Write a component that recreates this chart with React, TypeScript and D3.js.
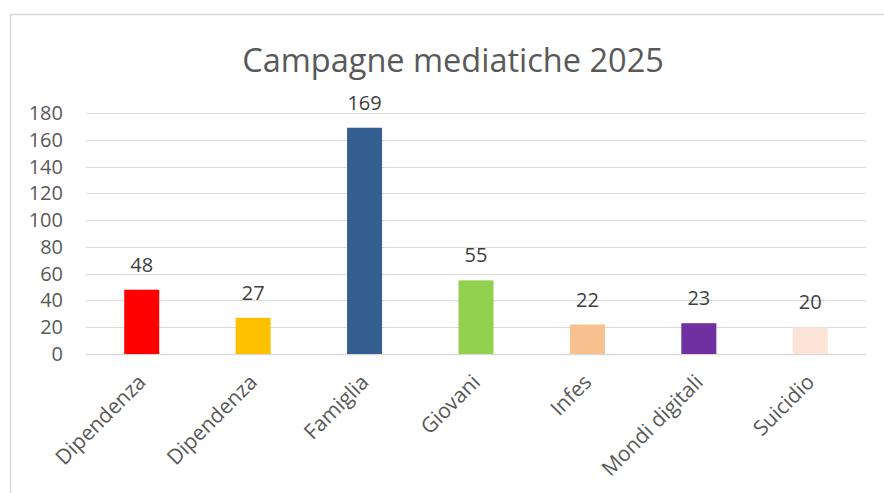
import React, { useEffect, useRef } from 'react';
import * as d3 from 'd3';

const categories = ['Dipendenza', 'Dipendenza ', 'Famiglia', 'Giovani', 'Infes', 'Mondi digitali', 'Suicidio'];
const values = [48, 27, 169, 55, 22, 23, 20];
const barColors = ['#FF0000', '#FFC000', '#355F91', '#92D050', '#F8C08E', '#7030A0', '#FCE4D6'];
const yTicks = [0, 20, 40, 60, 80, 100, 120, 140, 160, 180];
const title = 'Campagne mediatiche 2025';

function App() {
  const svgRef = useRef<SVGSVGElement>(null);

  useEffect(() => {
    const width = 884;
    const height = 493;
    const margin = { top: 113, right: 18, bottom: 139, left: 86 };
    const font = '"Open Sans", sans-serif';
    const textColor = '#595959';

    const svg = d3.select(svgRef.current);
    svg.selectAll('*').remove();

    // chart border, runs off the right and bottom edge like the original
    svg.append('rect')
      .attr('x', 10.5).attr('y', 14.5)
      .attr('width', 900).attr('height', 500)
      .attr('fill', 'white')
      .attr('stroke', '#D9D9D9').attr('stroke-width', 1.5);

    const x = d3.scaleBand<string>()
      .domain(categories)
      .range([margin.left, width - margin.right]);

    const y = d3.scaleLinear()
      .domain([0, 180])
      .range([height - margin.bottom, margin.top]);

    svg.append('text')
      .attr('x', 453).attr('y', 72)
      .attr('text-anchor', 'middle')
      .attr('font-family', font).attr('font-size', 32.5)
      .attr('fill', textColor)
      .text(title);

    // gridlines
    svg.append('g')
      .selectAll('line')
      .data(yTicks)
      .enter()
      .append('line')
      .attr('x1', margin.left).attr('x2', width - margin.right)
      .attr('y1', d => Math.round(y(d)) + 0.5).attr('y2', d => Math.round(y(d)) + 0.5)
      .attr('stroke', '#D9D9D9')
      .attr('stroke-width', d => d === 0 ? 1.5 : 1);

    svg.append('g')
      .selectAll('text')
      .data(yTicks)
      .enter()
      .append('text')
      .attr('x', 63).attr('y', d => y(d))
      .attr('dy', '0.35em')
      .attr('text-anchor', 'end')
      .attr('font-family', font).attr('font-size', 20)
      .attr('fill', textColor)
      .text(d => d);

    const barW = 35;
    const bars = categories.map((c, i) => ({ c, v: values[i], color: barColors[i] }));

    svg.append('g')
      .selectAll('rect')
      .data(bars)
      .enter()
      .append('rect')
      .attr('x', d => x(d.c)! + x.bandwidth() / 2 - barW / 2)
      .attr('y', d => y(d.v))
      .attr('width', barW)
      .attr('height', d => y(0) - y(d.v))
      .attr('fill', d => d.color);

    svg.append('g')
      .selectAll('text')
      .data(bars)
      .enter()
      .append('text')
      .attr('x', d => x(d.c)! + x.bandwidth() / 2)
      .attr('y', d => y(d.v) - 18)
      .attr('text-anchor', 'middle')
      .attr('font-family', font).attr('font-size', 20)
      .attr('fill', '#404040')
      .text(d => d.v);

    // rotated category labels
    svg.append('g')
      .selectAll('text')
      .data(categories)
      .enter()
      .append('text')
      .attr('transform', d => `translate(${x(d)! + x.bandwidth() / 2 - 5},${y(0) + 19}) rotate(-45)`)
      .attr('text-anchor', 'end')
      .attr('dy', '0.7em')
      .attr('font-family', font).attr('font-size', 21)
      .attr('fill', textColor)
      .text(d => d.trim());
  }, []);

  return (
    <svg ref={svgRef} width={884} height={493}
      style={{ position: 'absolute', left: 0, top: 0, background: 'white' }} />
  );
}

export default App;
